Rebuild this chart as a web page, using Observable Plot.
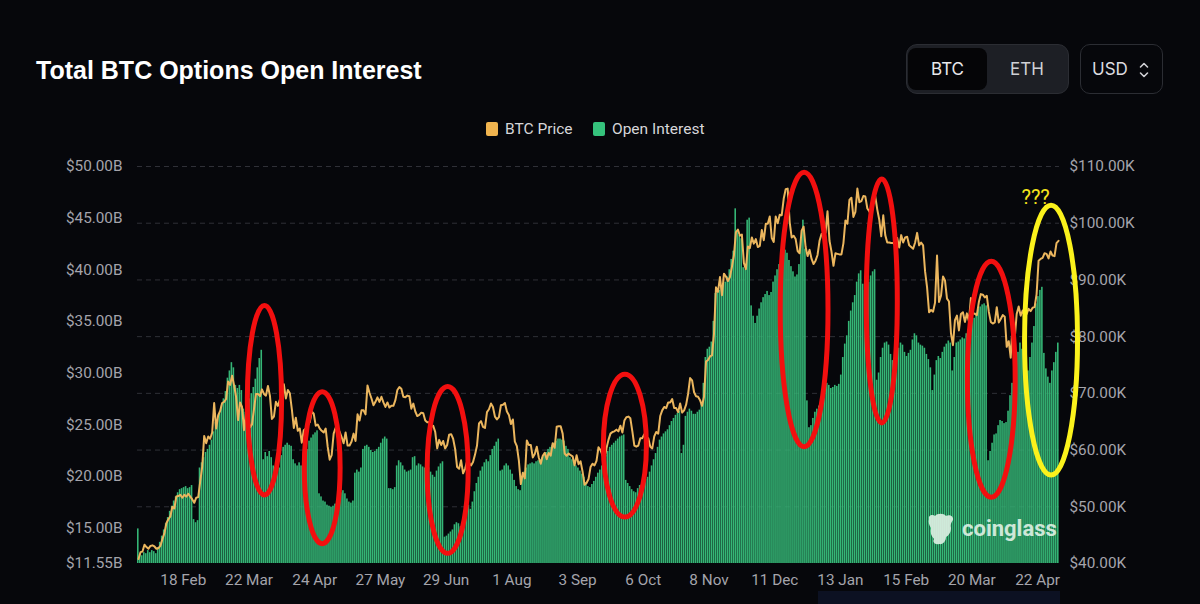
<!DOCTYPE html>
<html>
<head>
<meta charset="utf-8">
<script src="https://cdn.jsdelivr.net/npm/d3@7"></script>
<script src="https://cdn.jsdelivr.net/npm/@observablehq/plot@0.6"></script>
<style>
  html, body { margin: 0; padding: 0; background: #06070b; }
  #root { position: relative; width: 1200px; height: 604px; overflow: hidden; background: #06070b; font-family: Roboto, "Noto Sans", sans-serif; }
  #title { position: absolute; left: 36px; top: 55px; font: bold 25px/30px "Liberation Sans", Arial, sans-serif; color: #ffffff; white-space: nowrap; }
  #seg { position: absolute; left: 906px; top: 44px; width: 163px; height: 50px; box-sizing: border-box; background: #1d1f25; border: 1px solid #2b2d33; border-radius: 11px; }
  #seg .opt { position: absolute; top: 3px; height: 42px; text-align: center; font-family: Inter, Roboto, sans-serif; font-size: 17px; line-height: 42px; }
  #seg .sel { left: 1px; width: 79px; background: #050507; border-radius: 8px; color: #e9e9eb; }
  #seg .oth { left: 81px; width: 78px; color: #d0d1d5; }
  #usd { position: absolute; left: 1080px; top: 44px; width: 83px; height: 50px; box-sizing: border-box; border: 1px solid #2b2d33; border-radius: 10px; background: #06070b; color: #dcdce0; font-family: Inter, Roboto, sans-serif; font-size: 17px; line-height: 48px; padding-left: 11px; }
  #usd svg { position: absolute; left: 57px; top: 16px; }
  #legend { position: absolute; top: 120px; left: 486px; height: 18px; font-family: Roboto, sans-serif; font-size: 15.5px; color: #d6d6da; white-space: nowrap; }
  #legend span { position: absolute; top: 0; line-height: 18px; }
  #legend i { position: absolute; top: 2px; width: 12px; height: 14px; border-radius: 2px; }
  #chart { position: absolute; left: 0; top: 150px; }
  #wm { position: absolute; left: 924px; top: 512px; color: #dcefe2; font-family: Roboto, sans-serif; font-weight: bold; font-size: 22px; white-space: nowrap; opacity: 0.92; }
  #wm span { position: absolute; left: 38px; top: 4px; }
  #strip { position: absolute; left: 818px; top: 591px; width: 242px; height: 13px; background: #0c1122; }
</style>
</head>
<body>
<div id="root">
  <div id="title">Total BTC Options Open Interest</div>
  <div id="seg"><div class="opt sel">BTC</div><div class="opt oth">ETH</div></div>
  <div id="usd">USD<svg width="12" height="18" viewBox="0 0 12 18"><path d="M2.5 6 L6 2.5 L9.5 6 M2.5 12 L6 15.5 L9.5 12" fill="none" stroke="#cfd0d4" stroke-width="1.6" stroke-linecap="round" stroke-linejoin="round"/></svg></div>
  <div id="legend">
    <i style="left:0;background:#f0b44f"></i><span style="left:19px">BTC Price</span>
    <i style="left:107px;background:#35c27c"></i><span style="left:126px">Open Interest</span>
  </div>
  <div id="chart"></div>
  <div id="strip"></div>
</div>
<script>
// ---------- DATA ----------
const startDate = "2024-01-26"; // first daily bar

// BTC price (thousand USD), daily, 2024-01-26 .. 2025-05-02
const btcPrice = [
  // Jan 2024 (26-31)
  40.8,42.0,42.1,43.3,42.9,42.6,
  // Feb 2024
  43.1,43.2,43.0,42.6,42.7,43.1,44.3,45.3,47.1,47.8,48.3,50.0,49.7,51.8,51.9,52.1,51.6,52.1,51.8,52.3,51.8,51.3,50.7,51.6,51.7,54.5,57.1,62.5,61.2,
  // Mar 2024
  62.4,62.0,63.1,68.3,63.8,66.1,66.9,68.3,68.5,69.0,72.1,71.5,73.1,71.4,69.4,65.3,68.4,67.6,63.5,66.5,65.8,64.0,64.5,67.2,69.9,69.9,69.5,70.7,69.9,69.6,71.3,
  // Apr 2024
  69.6,65.5,65.9,68.5,67.8,68.9,69.4,71.6,69.1,70.6,70.0,67.2,63.9,65.7,63.4,63.8,61.3,63.5,63.8,64.9,64.9,66.8,66.4,64.3,64.5,63.8,63.4,63.1,63.8,60.6,
  // May 2024
  58.3,59.1,62.9,63.9,64.0,63.2,62.3,61.2,63.1,60.8,60.8,61.5,62.9,61.6,66.3,65.2,67.0,67.0,66.3,71.4,70.1,69.1,67.9,68.5,69.3,68.5,69.4,68.4,67.6,68.4,67.5,
  // Jun 2024
  67.8,67.8,68.8,70.6,71.1,70.8,69.4,69.3,69.6,69.5,67.3,68.2,66.8,66.0,66.2,66.6,66.5,65.2,64.9,64.9,64.1,64.3,63.2,60.3,61.8,60.9,61.6,60.3,60.9,62.7,
  // Jul 2024
  62.8,62.0,60.2,57.0,56.7,58.2,55.9,56.7,58.0,57.7,57.3,57.9,59.2,60.8,64.7,65.1,64.1,63.9,66.7,67.2,68.2,67.6,65.9,65.4,65.8,67.9,68.0,68.3,66.8,66.2,64.6,
  // Aug 2024
  65.4,61.5,60.7,58.2,54.0,56.0,55.0,61.7,60.9,60.9,58.7,59.3,60.6,58.7,57.6,59.0,59.5,58.4,59.5,59.0,61.2,60.4,64.1,64.2,64.2,62.9,59.4,59.0,59.4,59.1,58.9,
  // Sep 2024
  57.3,59.1,57.5,58.0,56.2,53.9,54.2,54.9,57.0,57.6,57.3,58.1,60.5,60.0,59.1,58.2,60.3,61.8,62.9,63.2,63.3,63.6,63.3,64.3,63.1,65.2,65.8,65.9,65.6,63.3,
  // Oct 2024
  60.8,60.6,60.8,62.1,62.1,62.8,62.2,62.1,60.6,60.3,62.4,63.2,62.9,66.0,67.0,67.6,67.4,68.4,68.4,69.0,67.4,67.4,66.7,68.2,66.6,67.0,68.0,69.9,72.7,72.3,70.2,
  // Nov 2024
  69.5,69.4,68.8,67.8,69.4,75.6,75.9,76.5,76.7,80.5,88.7,87.9,90.5,87.3,91.1,90.6,89.8,90.5,92.3,94.3,98.4,98.9,97.8,98.0,93.0,91.9,95.9,95.6,97.5,96.4,
  // Dec 2024
  97.2,95.8,96.0,98.8,97.0,99.9,99.9,101.2,97.4,96.7,101.2,100.0,101.5,101.4,104.3,106.0,106.1,100.2,97.5,97.8,97.2,95.1,94.7,98.7,99.4,95.8,94.2,95.3,93.7,92.8,93.4,
  // Jan 2025
  94.4,96.9,98.1,98.2,98.3,102.1,96.9,95.0,92.5,94.7,94.6,94.5,94.5,96.5,100.5,99.9,104.1,104.5,101.1,102.0,106.1,103.7,103.9,104.8,104.7,102.6,102.1,101.3,103.7,104.7,102.4,
  // Feb 2025
  100.6,97.7,101.4,97.9,96.6,96.6,96.5,96.5,96.1,97.4,95.7,97.9,96.6,97.5,97.6,96.1,95.8,95.5,96.6,98.3,96.1,96.6,96.1,91.5,88.7,84.3,84.7,84.4,
  // Mar 2025
  86.0,94.3,86.1,87.2,90.6,89.9,86.7,86.2,80.6,78.5,82.9,83.7,81.1,84.0,84.3,82.6,84.1,82.7,86.8,84.2,84.0,83.8,86.1,87.5,87.4,86.9,87.2,84.4,82.6,82.3,82.5,
  // Apr 2025
  85.2,82.5,83.1,83.8,83.5,78.2,79.2,76.3,82.6,79.6,84.0,85.3,83.7,84.6,83.6,84.0,84.9,84.5,85.1,85.2,87.5,93.4,93.7,93.9,94.7,94.6,93.8,95.0,94.3,94.2,
  // May 2025 (1-2)
  96.5,96.9
];

// Total BTC options open interest (billion USD), same days
const openInterest = [
  // Jan 2024 (26-31)
  14.9,12.4,12.3,12.6,12.5,12.8,
  // Feb 2024
  12.6,12.8,12.7,12.5,13.1,13.6,14.2,14.8,15.4,16.0,16.6,17.1,17.6,18.0,18.4,18.7,18.8,18.9,19.0,18.8,18.9,19.1,15.8,15.5,15.7,20.8,21.3,21.8,22.3,
  // Mar 2024
  22.6,23.0,23.5,24.3,25.2,25.5,26.0,26.8,27.5,28.2,29.5,30.2,31.0,30.5,28.8,28.5,28.8,28.3,26.5,26.2,26.8,27.5,28.0,28.6,29.4,30.5,31.4,32.2,21.6,22.3,21.9,
  // Apr 2024
  22.4,21.8,21.0,20.6,20.4,20.8,22.0,22.8,23.0,23.2,23.0,22.9,21.6,21.2,21.0,21.3,21.0,20.8,21.5,22.6,23.4,23.7,24.0,24.2,24.4,18.3,18.0,17.6,17.5,17.2,
  // May 2024
  17.1,17.0,17.1,17.3,17.6,18.0,18.4,18.6,18.3,17.8,17.5,17.4,17.6,20.3,20.6,20.4,20.8,22.6,22.9,23.0,22.8,22.5,22.3,22.4,22.6,22.8,23.2,23.6,23.8,23.6,18.8,
  // Jun 2024
  18.8,18.7,18.9,21.0,21.5,21.3,21.0,20.6,20.4,20.5,20.6,21.8,21.9,21.0,21.2,21.1,20.9,20.8,20.9,20.8,20.4,20.1,19.9,20.5,20.9,21.2,21.4,14.1,14.2,14.4,
  // Jul 2024
  14.6,14.8,15.3,15.5,15.4,15.1,15.0,15.6,16.5,17.2,16.8,17.5,18.5,19.3,19.9,20.5,20.9,21.3,21.6,21.4,22.0,22.6,22.9,23.3,23.6,20.5,20.6,21.0,21.2,21.0,20.6,
  // Aug 2024
  20.2,19.6,19.0,18.7,18.6,19.8,20.4,20.8,21.1,21.2,21.3,21.2,21.4,21.5,21.6,21.8,22.0,22.3,22.6,22.8,23.0,23.2,23.4,23.6,23.6,23.5,23.4,22.9,22.6,21.8,21.6,
  // Sep 2024
  21.5,21.0,20.8,20.5,20.2,19.9,19.4,19.0,18.9,19.2,19.5,19.9,20.3,20.6,21.0,21.5,22.0,22.4,22.8,23.0,23.2,23.4,23.6,23.8,23.9,24.0,19.6,19.3,19.0,18.7,
  // Oct 2024
  18.5,18.4,18.8,19.1,19.2,19.5,19.7,19.9,20.4,21.0,21.6,22.2,22.8,23.5,23.8,24.1,24.3,24.5,24.9,25.3,25.6,25.9,26.1,26.3,22.2,23.0,25.8,26.2,26.5,26.3,26.0,
  // Nov 2024
  26.0,26.2,26.4,27.0,29.0,31.5,32.3,32.5,33.0,35.0,37.7,37.8,38.0,38.3,38.6,38.8,39.3,40.0,41.0,41.8,45.9,43.6,43.3,43.0,40.2,40.0,44.8,45.0,36.5,35.5,
  // Dec 2024
  34.8,35.5,36.2,36.8,37.3,37.6,37.9,37.5,37.8,38.8,39.4,40.0,40.5,41.0,41.5,41.9,41.6,40.9,40.3,39.8,39.3,39.5,40.5,43.0,44.8,42.0,27.3,24.7,24.9,25.6,26.2,
  // Jan 2025
  26.5,26.8,27.0,27.5,28.6,29.0,28.8,28.5,28.6,28.8,28.7,28.9,29.8,31.5,32.8,33.6,35.0,36.0,36.8,37.5,38.8,39.6,39.9,38.6,38.0,38.3,38.8,39.4,39.8,40.0,29.3,
  // Feb 2025
  30.0,31.5,32.4,32.9,33.0,32.7,31.8,31.2,31.0,31.3,32.4,32.9,32.7,32.0,31.6,31.9,32.2,33.2,33.8,33.6,32.9,32.7,32.6,32.4,31.8,31.3,30.5,28.3,
  // Mar 2025
  29.8,31.2,31.6,31.4,32.0,32.5,32.8,33.1,32.9,30.2,31.5,32.9,33.0,33.2,33.4,33.3,33.8,34.2,34.6,35.0,35.3,35.8,36.2,36.4,36.6,36.7,36.5,21.5,22.4,23.2,24.0,
  // Apr 2025
  24.1,24.9,25.4,25.3,25.1,25.2,26.3,27.8,29.0,30.2,31.2,32.0,32.9,32.3,31.8,30.8,30.2,31.5,32.9,34.5,36.7,37.4,38.0,38.3,31.9,30.4,29.6,29.0,30.2,31.0,
  // May 2025 (1-2)
  32.0,32.9
];

// axis ticks
const oiTicks = [11.55, 15, 20, 25, 30, 35, 40, 45, 50];          // left, $B
const priceTicks = [40, 50, 60, 70, 80, 90, 100, 110];             // right, $K
const dateTicks = ["2024-02-18","2024-03-22","2024-04-24","2024-05-27","2024-06-29","2024-08-01",
                   "2024-09-03","2024-10-06","2024-11-08","2024-12-11","2025-01-13","2025-02-15",
                   "2025-03-20","2025-04-22"];

// hand-drawn annotation ellipses (center date, center price K, half-width days, half-height K)
const annoDate   = ["2024-03-30","2024-04-28","2024-06-30","2024-09-27","2024-12-26","2025-02-03","2025-03-30","2025-04-29"];
const annoPrice  = [68.7, 56.8, 56.4, 60.7, 84.7, 86.2, 72.4, 79.3];
const annoHalfD  = [8.6, 9.0, 10.3, 10.8, 12.0, 7.8, 12.0, 13.3];
const annoHalfK  = [16.7, 13.4, 14.7, 12.6, 24.2, 21.5, 20.8, 23.8];
const annoColor  = ["#f20f0f","#f20f0f","#f20f0f","#f20f0f","#f20f0f","#f20f0f","#f20f0f","#fbf21c"];
const noteText = ["???"], noteDate = ["2025-04-21"], notePrice = [104.6];

// ---------- BUILD ----------
const OI_MIN = 11.55, OI_MAX = 50, P_MIN = 40, P_MAX = 110;
const toOI = p => OI_MIN + (p - P_MIN) * (OI_MAX - OI_MIN) / (P_MAX - P_MIN);
const fromOI = v => P_MIN + (v - OI_MIN) * (P_MAX - P_MIN) / (OI_MAX - OI_MIN);
const day = 864e5;
const t0 = new Date(startDate + "T00:00:00Z").getTime();
const rows = btcPrice.map((p, i) => ({
  start: new Date(t0 + i * day),
  end: new Date(t0 + (i + 1) * day),
  mid: new Date(t0 + (i + 0.5) * day),
  price: p,
  oi: openInterest[i]
}));
const xDomain = [new Date(t0), new Date(t0 + btcPrice.length * day)];
const fmtDate = d3.utcFormat("%-d %b");

const chart = Plot.plot({
  width: 1200,
  height: 454,
  marginLeft: 137,
  marginRight: 141,
  marginTop: 16,
  marginBottom: 41,
  style: { background: "transparent", fontFamily: "Roboto, sans-serif", fontSize: "15.3px", overflow: "visible" },
  x: { type: "utc", domain: xDomain },
  y: { domain: [OI_MIN, OI_MAX] },
  marks: [
    Plot.gridY(priceTicks.filter(p => p > P_MIN).map(toOI), { stroke: "#2f3037", strokeOpacity: 1, strokeDasharray: "5,4" }),
    Plot.rect(rows, { x1: "start", x2: "end", y1: () => OI_MIN, y2: "oi", fill: "#35b676", insetRight: 0.4 }),
    Plot.line(rows, { x: "mid", y: d => toOI(d.price), stroke: "#ebb65e", strokeWidth: 2 }),
    Plot.axisY(oiTicks, { anchor: "left", tickSize: 0, tickPadding: 15, color: "#a4a4ab", tickFormat: v => "$" + v.toFixed(2) + "B", label: null }),
    Plot.axisY(priceTicks.map(toOI), { anchor: "right", tickSize: 0, tickPadding: 10, color: "#a4a4ab", tickFormat: v => "$" + fromOI(v).toFixed(2) + "K", label: null }),
    Plot.axisX(dateTicks.map(s => new Date(s + "T00:00:00Z")), { tickSize: 0, tickPadding: 11, color: "#a4a4ab", tickFormat: fmtDate, label: null }),
    Plot.text(noteText, { x: (d, i) => new Date(noteDate[i] + "T00:00:00Z"), y: (d, i) => toOI(notePrice[i]), text: d => d, fill: "#f5e41c", fontSize: 20, fontFamily: "Roboto, sans-serif" })
  ]
});
document.getElementById("chart").appendChild(chart);

// annotation ellipses, positioned through the chart's own scales
const sx = chart.scale("x"), sy = chart.scale("y");
const svg = d3.select(chart);
annoDate.forEach((ds, i) => {
  const t = new Date(ds + "T00:00:00Z").getTime();
  const cx = sx.apply(new Date(t));
  const rx = sx.apply(new Date(t + annoHalfD[i] * day)) - cx;
  const cy = sy.apply(toOI(annoPrice[i]));
  const ry = cy - sy.apply(toOI(annoPrice[i] + annoHalfK[i]));
  svg.append("ellipse").attr("cx", cx).attr("cy", cy).attr("rx", rx).attr("ry", ry)
    .attr("fill", "none").attr("stroke", annoColor[i]).attr("stroke-width", 5);
});

// watermark
const wm = document.createElement("div");
wm.id = "wm";
wm.innerHTML = '<svg width="34" height="34" viewBox="0 0 34 34"><path d="M5 7 C4 3 9 2 11 4 C13 1 20 1 22 4 C25 2 30 4 29 8 C27 11 26 13 27 16 C27 21 24 24 22 25 C22 29 19 33 15 32 C11 33 8 30 10 27 C7 24 6 20 7 16 C5 13 4 10 5 7 Z" fill="#dcefe2"/></svg><span>coinglass</span>';
document.getElementById("root").appendChild(wm);
</script>
</body>
</html>
